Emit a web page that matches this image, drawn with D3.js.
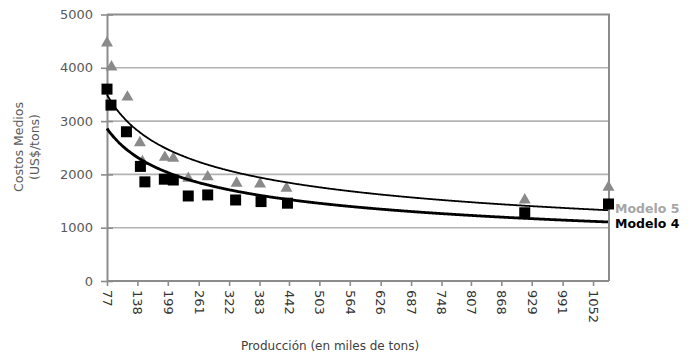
<!DOCTYPE html>
<html>
<head>
<meta charset="utf-8">
<script src="https://cdn.jsdelivr.net/npm/d3@7"></script>
<style>
  html, body { margin: 0; padding: 0; background: #fff; }
  svg text { font-family: "DejaVu Sans", sans-serif; }
</style>
</head>
<body>
<svg id="chart" width="688" height="360"></svg>
<script>
// Production (thousand tons) and average cost (US$/ton) for each model
const produccionM4 = [77, 85, 116, 144, 153, 192, 210, 240, 279, 335, 386, 439, 915, 1083];
const costoM4      = [3600, 3300, 2800, 2150, 1860, 1910, 1895, 1595, 1615, 1520, 1490, 1460, 1280, 1445];
const produccionM5 = [77, 86, 118, 143, 148, 193, 210, 240, 279, 337, 384, 437, 915, 1083];
const costoM5      = [4465, 4015, 3450, 2595, 2240, 2320, 2300, 1925, 1955, 1835, 1820, 1740, 1520, 1760];

const xTickValues = [77, 138, 199, 261, 322, 383, 442, 503, 564, 626, 687, 748, 807, 868, 929, 991, 1052];
const yTickValues = [0, 1000, 2000, 3000, 4000, 5000];
const seriesNames = ["Modelo 5", "Modelo 4"];

const svg = d3.select("#chart");
const plot = { left: 107, right: 609, top: 14.5, bottom: 281 };

const x = d3.scaleLinear().domain([77, 1084]).range([plot.left, plot.right]);
const y = d3.scaleLinear().domain([0, 5000]).range([plot.bottom, plot.top]);

// Power trend line y = a * x^b fitted by least squares in log-log space
function powerFit(xs, ys) {
  const lx = xs.map(Math.log), ly = ys.map(Math.log);
  const mx = d3.mean(lx), my = d3.mean(ly);
  let sxy = 0, sxx = 0;
  lx.forEach((v, i) => { sxy += (v - mx) * (ly[i] - my); sxx += (v - mx) * (v - mx); });
  const b = sxy / sxx;
  const a = Math.exp(my - b * mx);
  return t => a * Math.pow(t, b);
}

// Horizontal gridlines
svg.append("g")
  .selectAll("line")
  .data(yTickValues.filter(v => v > 0 && v < 5000))
  .join("line")
  .attr("x1", plot.left).attr("x2", plot.right)
  .attr("y1", d => y(d)).attr("y2", d => y(d))
  .attr("stroke", "#b3b3b3").attr("stroke-width", 1.6);

// Top and right frame
svg.append("path")
  .attr("d", `M${plot.left},${y(5000)}H${plot.right}V${plot.bottom}`)
  .attr("fill", "none").attr("stroke", "#8c8c8c").attr("stroke-width", 2);

// Y axis
const yAxis = svg.append("g")
  .attr("transform", `translate(${plot.left},0)`)
  .call(d3.axisLeft(y).tickValues(yTickValues).tickFormat(d3.format("d"))
    .tickSizeInner(6).tickSizeOuter(0).tickPadding(8));
yAxis.select(".domain").attr("stroke", "#8c8c8c").attr("stroke-width", 2);
yAxis.selectAll(".tick line").attr("stroke", "#8c8c8c").attr("stroke-width", 1.6).attr("x2", 6).attr("x1", -6);
yAxis.selectAll(".tick text")
  .attr("fill", "#595959").attr("font-size", 13).attr("x", -14)
  .style("font-family", "DejaVu Sans, sans-serif");

// X axis
const xAxis = svg.append("g")
  .attr("transform", `translate(0,${plot.bottom})`)
  .call(d3.axisBottom(x).tickValues(xTickValues).tickFormat(d3.format("d")).tickSizeInner(5).tickSizeOuter(0));
xAxis.select(".domain").attr("stroke", "#8c8c8c").attr("stroke-width", 2)
  .attr("d", `M${plot.left},0H${plot.right}`);
xAxis.selectAll(".tick line").attr("stroke", "#8c8c8c").attr("stroke-width", 1.6);
xAxis.selectAll(".tick text")
  .attr("fill", "#333").attr("font-size", 13)
  .attr("text-anchor", "start")
  .attr("transform", "rotate(90)")
  .attr("x", 9).attr("y", 0).attr("dy", "0.36em")
  .style("font-family", "DejaVu Sans, sans-serif");

// Markers: Modelo 5 triangles, Modelo 4 squares
const m5 = produccionM5.map((p, i) => ({ p, c: costoM5[i] }));
const m4 = produccionM4.map((p, i) => ({ p, c: costoM4[i] }));

svg.append("g").selectAll("path")
  .data(m5).join("path")
  .attr("d", d3.symbol(d3.symbolTriangle, 62))
  .attr("transform", d => `translate(${x(d.p)},${y(d.c)})`)
  .attr("fill", "#8a8a8a");

svg.append("g").selectAll("rect")
  .data(m4).join("rect")
  .attr("x", d => x(d.p) - 5.5).attr("y", d => y(d.c) - 5.5)
  .attr("width", 11).attr("height", 11)
  .attr("fill", "#000");

// Trend lines
const samples = d3.range(77, 1084.01, 3);
const line = d3.line().x(d => x(d[0])).y(d => y(d[1])).curve(d3.curveMonotoneX);
const fit5 = powerFit(produccionM5, costoM5);
const fit4 = powerFit(produccionM4, costoM4);

svg.append("path")
  .attr("d", line(samples.map(t => [t, fit5(t)])))
  .attr("fill", "none").attr("stroke", "#000").attr("stroke-width", 1.8);
svg.append("path")
  .attr("d", line(samples.map(t => [t, fit4(t)])))
  .attr("fill", "none").attr("stroke", "#000").attr("stroke-width", 2.8);

// Series labels at the right end of the trend lines
svg.append("text").attr("x", 615).attr("y", 213)
  .attr("font-size", 12.5).attr("font-weight", "bold").attr("fill", "#a6a6a6")
  .text(seriesNames[0]);
svg.append("text").attr("x", 615).attr("y", 228)
  .attr("font-size", 12.5).attr("font-weight", "bold").attr("fill", "#000")
  .text(seriesNames[1]);

// Axis titles
svg.append("text")
  .attr("transform", "translate(23,147) rotate(-90)")
  .attr("text-anchor", "middle").attr("font-size", 12.5).attr("fill", "#595959")
  .text("Costos Medios");
svg.append("text")
  .attr("transform", "translate(39,147) rotate(-90)")
  .attr("text-anchor", "middle").attr("font-size", 12.5).attr("fill", "#595959")
  .text("(US$/tons)");
svg.append("text")
  .attr("x", 330).attr("y", 350)
  .attr("text-anchor", "middle").attr("font-size", 12).attr("fill", "#404040")
  .text("Producción (en miles de tons)");
</script>
</body>
</html>
